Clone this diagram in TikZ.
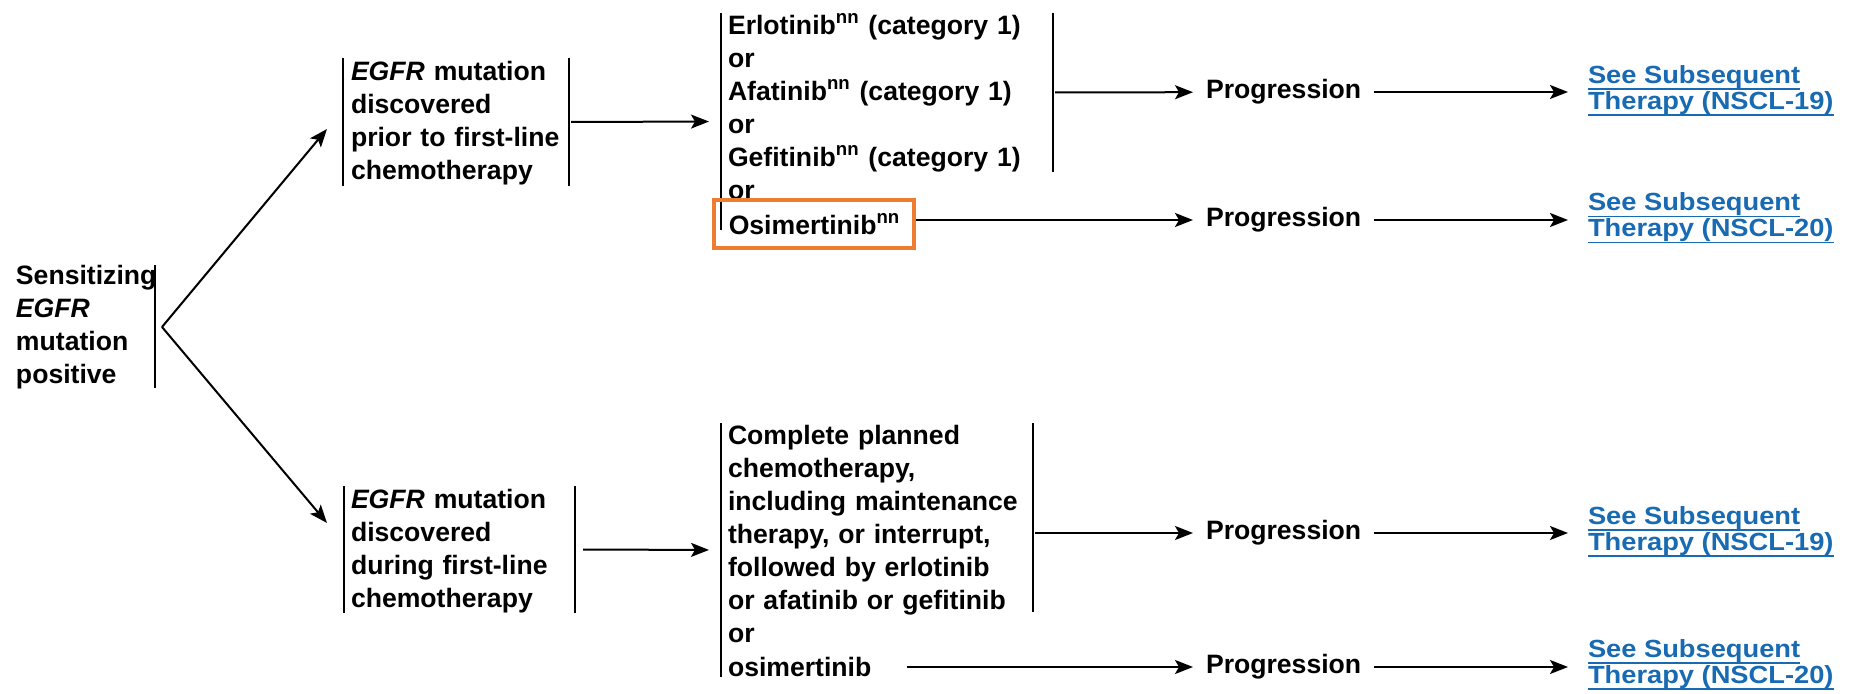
\documentclass[tikz,border=0pt]{standalone}
\usepackage{fontspec}
\setmainfont{Liberation Sans}
\newfontfamily\linkfont{Liberation Sans}[FakeStretch=1.1]
\usepackage{tikz}
\usetikzlibrary{
  arrows.meta,
  positioning
}
\definecolor{linkblue}{RGB}{24,106,178}
\definecolor{osiorange}{RGB}{237,125,49}
\newsavebox{\seebox}
\newcommand{\seeline}[1]{\sbox{\seebox}{#1}\rlap{\rule[-3.4pt]{\wd\seebox}{0.9pt}}\usebox{\seebox}}

\begin{document}
\begin{tikzpicture}[
      x=0.5pt, y=-0.5pt,
      stage/.style={
         anchor=west,
         inner sep=0pt,
         align=left,
         font=\bfseries\fontsize{13.3}{16.5}\selectfont
      },
      side bar/.style={
         rectangle,
         fill=black,
         inner sep=0pt,
         minimum width=1pt,
         minimum height=#1
      },
      progress/.style={
         stage,
         inner xsep=6pt
      },
      seelink/.style={
         anchor=west,
         inner ysep=0pt,
         inner xsep=9.5pt,
         align=left,
         text=linkblue,
         font=\linkfont\bfseries\fontsize{12.4}{13}\selectfont
      },
      picked/.style={
         stage,
         draw=osiorange,
         line width=1.75pt,
         inner xsep=7.5pt,
         minimum height=24pt,
         text width=85pt
      },
      point/.style={coordinate},>={Stealth[length=9pt,width=7pt,inset=2pt]},
      line width=1pt,
      tip/.style={->}
    ]
    \useasboundingbox (0,0) rectangle (1853,694);

    % starting point
    \node (sens) [stage, text width=72pt] at (15,327) {Sensitizing\\\textit{EGFR}\\mutation\\positive};
    \node (sensR) [side bar=61.5pt] at (155,326.5) {};
    \node (split) [point] at (162,327) {};
    \node (uptip) [point] at (327,129) {};
    \node (downtip) [point] at (327,523) {};

    % when the mutation was found
    \node (pre) [stage, text width=106pt] at (350,123) {\textit{EGFR} mutation\\discovered\\prior to first-line\\chemotherapy};
    \node (preL) [side bar=64pt] at (343,122) {};
    \node (preR) [side bar=64pt] at (569,122) {};
    \node (dur) [stage, text width=106pt] at (350,551) {\textit{EGFR} mutation\\discovered\\during first-line\\chemotherapy};
    \node (durL) [side bar=63.5pt] at (344,549.5) {};
    \node (durR) [side bar=63.5pt] at (575,549.5) {};

    % treatment
    \node (drugs) [stage, text width=160pt] at (727,106.5) {Erlotinib\textsuperscript{nn} (category 1)\\or\\Afatinib\textsuperscript{nn} (category 1)\\or\\Gefitinib\textsuperscript{nn} (category 1)\\or};
    \node (drugsL) [side bar=108.5pt] at (721,121.5) {};
    \node (drugsR) [side bar=79.5pt] at (1053,92.5) {};
    \node (osi) [picked] at (712,224) {\mbox{Osimertinib\textsuperscript{nn}}};
    \node (chemo) [stage, text width=160pt] at (727,534) {Complete planned\\chemotherapy,\\including maintenance\\therapy, or interrupt,\\followed by erlotinib\\or afatinib or gefitinib\\or};
    \node (osichemo) [stage, text width=89pt] at (727,667) {osimertinib};
    \node (chemoL) [side bar=127pt] at (721,550) {};
    \node (chemoR) [side bar=94.5pt] at (1033,517.5) {};

    % progression and links
    \node (prog1) [progress] at (1193,92) {Progression};
    \node (prog2) [progress] at (1193,220) {Progression};
    \node (prog3) [progress] at (1193,533) {Progression};
    \node (prog4) [progress] at (1193,667) {Progression};
    \node (see1) [seelink] at (1568,90.5) {\seeline{See Subsequent}\\\seeline{Therapy (NSCL-19)}};
    \node (see2) [seelink] at (1568,218) {\seeline{See Subsequent}\\\seeline{Therapy (NSCL-20)}};
    \node (see3) [seelink] at (1568,531.5) {\seeline{See Subsequent}\\\seeline{Therapy (NSCL-19)}};
    \node (see4) [seelink] at (1568,664.5) {\seeline{See Subsequent}\\\seeline{Therapy (NSCL-20)}};

    \draw [tip] (split) -- (uptip);
    \draw [tip] (split) -- (downtip);
    \draw [tip, shorten >=5pt] (preR) -- (drugsL);
    \draw [tip, shorten <=3pt, shorten >=5pt] (durR) -- (chemoL);
    \draw [tip] (drugsR) -- (prog1);
    \draw [tip] (osi.east |- prog2) -- (prog2);
    \draw [tip] (chemoR.east |- prog3) -- (prog3);
    \draw [tip] (osichemo) -- (prog4);
    \foreach \i in {1,...,4}
      \draw [tip] (prog\i) -- (prog\i -| see\i.west);
\end{tikzpicture}
\end{document}
